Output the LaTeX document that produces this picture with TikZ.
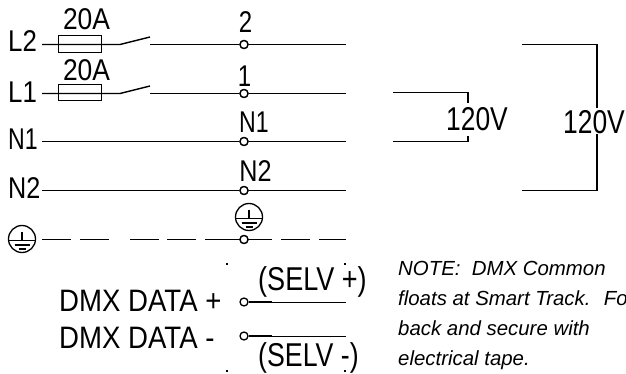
\documentclass[tikz,border=0pt]{standalone}
\usepackage{graphicx}
\usepackage{fontspec}
\usetikzlibrary{calc}
\setmainfont{Liberation Sans}
\newcommand{\sq}[2]{\scalebox{#1}[1]{#2}}
\tikzset{
  wire/.style={line width=1.4pt,black},
  thin wire/.style={line width=1pt,black},
  term/.style={circle,draw,fill=white,line width=1.3pt,minimum size=8pt,inner sep=0pt},
  fusebox/.style={rectangle,draw,fill=none,line width=1.3pt,minimum width=43pt,minimum height=16.5pt,inner sep=0pt},
  lab/.style={inner sep=0pt,anchor=base,font=\fontsize{30}{30}\selectfont},
  labl/.style={inner sep=0pt,anchor=base west,font=\fontsize{30}{30}\selectfont},
  bigl/.style={inner sep=0pt,anchor=base west,font=\fontsize{33}{33}\selectfont},
  dmx/.style={inner sep=0pt,anchor=base west,font=\fontsize{31}{31}\selectfont},
  note/.style={inner sep=0pt,anchor=base west,font=\fontsize{20.4}{20.4}\selectfont\itshape},
  gnd/.style={circle,draw,line width=1.3pt,minimum size=27pt,inner sep=0pt},
  speck/.style={inner sep=0pt,minimum size=1.4pt,fill=black,rectangle}
}
\begin{document}
\begin{tikzpicture}[x=1pt,y=-1pt]
\useasboundingbox (0,0) rectangle (626,374);
\clip (0,0) rectangle (626,374);
% labels
\node[labl] (lL2) at (8,52) {\sq{.86}{L2}};
\node[labl] (lL1) at (8,102.5) {\sq{.86}{L1}};
\node[labl] (lN1) at (8,150) {\sq{.77}{N1}};
\node[labl] (lN2) at (8,199) {\sq{.84}{N2}};
\node[lab] (a1) at (86.5,30) {\sq{.88}{20A}};
\node[lab] (a2) at (86.5,81) {\sq{.88}{20A}};
\node[lab] (n2) at (245.5,33) {\sq{.8}{2}};
\node[lab] (n1) at (244.5,87) {\sq{.8}{1}};
\node[lab] (nN1) at (254,132.5) {\sq{.77}{N1}};
\node[lab] (nN2) at (255.5,181.5) {\sq{.84}{N2}};
% terminals
\node[term] (t2) at (244,44.5) {};
\node[term] (t1) at (244,93.5) {};
\node[term] (tn1) at (244,141.5) {};
\node[term] (tn2) at (244,190.5) {};
\node[term] (tg) at (244,239.5) {};
\node[term] (tp) at (244,302) {};
\node[term] (tm) at (244,336) {};
% fuses
\node[fusebox] (f2) at (80,44) {};
\node[fusebox] (f1) at (80,92.5) {};
% free ends
\coordinate (s2) at (42,44.5);
\coordinate (s1) at (42,93.5);
\coordinate (sw2a) at (120,44.5);
\coordinate (sw2b) at (150,37);
\coordinate (sw2c) at (150,44.5);
\coordinate (sw1a) at (120,93.5);
\coordinate (sw1b) at (150,86);
\coordinate (sw1c) at (150,93.5);
\coordinate (e2) at (346,44.5);
\coordinate (e1) at (346,93.5);
\coordinate (eN1) at (346,141.5);
\coordinate (eN2) at (346,190.5);
\coordinate (sN1) at (42,141.5);
\coordinate (sN2) at (42,190.5);
% wires
\draw[wire] (s2) -- (sw2a) -- (sw2b);
\draw[wire] (sw2c) -- (t2) -- (e2);
\draw[wire] (s1) -- (sw1a) -- (sw1b);
\draw[wire] (sw1c) -- (t1) -- (e1);
\draw[wire] (sN1) -- (tn1) -- (eN1);
\draw[wire] (sN2) -- (tn2) -- (eN2);
\node[term] at (t2) {};
\node[term] at (t1) {};
\node[term] at (tn1) {};
\node[term] at (tn2) {};
% earth
\foreach \a/\b in {42/71,80/109,130/159,167/196,205/240,248/272,281/310,319/346}
  \draw[wire] (\a,239.5) -- (\b,239.5);
\node[term] at (tg) {};
\node[gnd] (g1) at (22,239) {};
\node[gnd] (g2) at (249,217) {};
\foreach \g in {g1,g2}{
  \draw[line width=1.2pt] ($(\g.center)+(0,-7)$) -- ($(\g.center)+(0,1.5)$);
  \draw[line width=1.2pt] ($(\g.center)+(-13,1.5)$) -- ($(\g.center)+(13,1.5)$);
  \draw[line width=1.2pt] ($(\g.center)+(-7.5,6)$) -- ($(\g.center)+(7.5,6)$);
  \draw[line width=1.2pt] ($(\g.center)+(-3.5,10)$) -- ($(\g.center)+(3.5,10)$);
}
% DMX
\coordinate (ep) at (346,302);
\coordinate (em) at (346,336);
\coordinate (pp) at (272,302);
\coordinate (mm) at (272,336);
\draw[thin wire] (tp) -- (ep);
\draw[thin wire] (tm) -- (em);
\draw[wire] (tp) -- (pp);
\draw[wire] (tm) -- (mm);
\node[dmx] (d1) at (59,311) {\sq{.89}{DMX DATA +}};
\node[dmx] (d2) at (59,348) {\sq{.89}{DMX DATA -}};
\node[bigl] (sv1) at (258,290) {\sq{.82}{(SELV +)}};
\node[bigl] (sv2) at (258,366.5) {\sq{.81}{(SELV -)}};
\foreach \p/\q in {227/264,345/264,227/371,345/371}
  \node[speck] at (\p,\q) {};
% right brackets
\coordinate (b1a) at (393,92.5);
\coordinate (b1b) at (468,92.5);
\coordinate (b1c) at (468,103);
\coordinate (b2a) at (393,141.5);
\coordinate (b2b) at (468,141.5);
\coordinate (b2c) at (468,136);
\draw[wire] (b1a) -- (b1b) -- (b1c);
\draw[wire] (b2a) -- (b2b) -- (b2c);
\coordinate (c1a) at (522,44.5);
\coordinate (c1b) at (597,44.5);
\coordinate (c1c) at (597,108);
\coordinate (c2a) at (522,190.5);
\coordinate (c2b) at (597,190.5);
\coordinate (c2c) at (597,134);
\draw[wire] (c1a) -- (c1b) -- (c1c);
\draw[wire] (c2a) -- (c2b) -- (c2c);
\node[bigl] (v1) at (446,131) {\sq{.8}{120V}};
\node[bigl] (v2) at (563,133.5) {\sq{.8}{120V}};
% note
\node[note] (m1) at (398,275) {NOTE:\ \ DMX Common};
\node[note] (m2) at (398,305) {floats at Smart Track.\ \ \kern2pt Fo};
\node[note] (m3) at (398,335) {back and secure with};
\node[note] (m4) at (398,365) {electrical tape.};
\end{tikzpicture}
\end{document}
